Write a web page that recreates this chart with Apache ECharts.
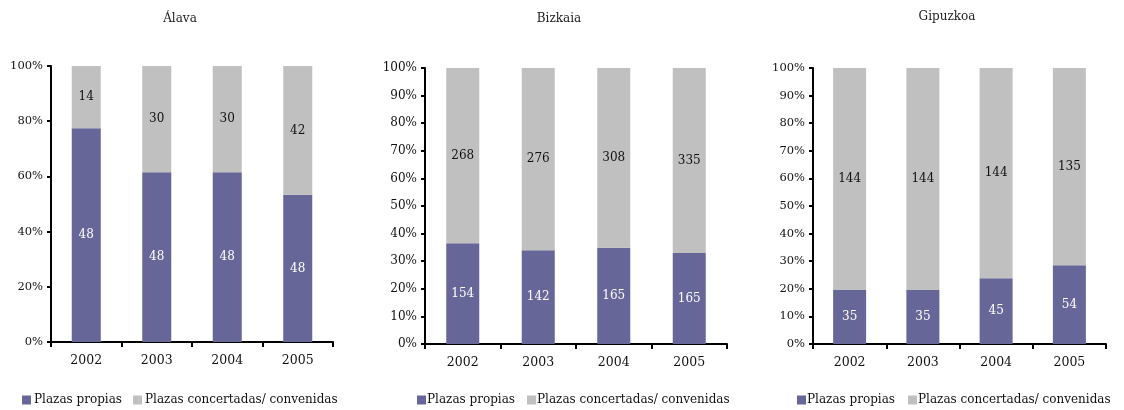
<!DOCTYPE html>
<html>
<head>
<meta charset="utf-8">
<script src="https://cdn.jsdelivr.net/npm/echarts@6/dist/echarts.min.js"></script>
<style>html,body{margin:0;padding:0;background:#fff}#c{width:1124px;height:410px}</style>
</head>
<body>
<div id="c"></div>
<script>
const years = ['2002', '2003', '2004', '2005'];
const regions = ['Álava', 'Bizkaia', 'Gipuzkoa'];
const seriesNames = ['Plazas propias', 'Plazas concertadas/ convenidas'];

const alavaPropias = [48, 48, 48, 48];
const alavaConcertadas = [14, 30, 30, 42];
const bizkaiaPropias = [154, 142, 165, 165];
const bizkaiaConcertadas = [268, 276, 308, 335];
const gipuzkoaPropias = [35, 35, 45, 54];
const gipuzkoaConcertadas = [144, 144, 144, 135];

const yIntervals = [20, 10, 10];

const propias = [alavaPropias, bizkaiaPropias, gipuzkoaPropias];
const concertadas = [alavaConcertadas, bizkaiaConcertadas, gipuzkoaConcertadas];

const FONT = '"DejaVu Serif", "Liberation Serif", serif';
const PURPLE = '#666699';
const GREY = '#C0C0C0';

const layout = [
  { left: 51, right: 791, top: 66, bottom: 68, barWidth: 29, titleX: 175, titleY: 8, legendX: 22, legendGap: 11, textPad: -2, yFont: 11.5 },
  { left: 425, right: 397, top: 68, bottom: 66, barWidth: 33, titleX: 554, titleY: 8, legendX: 417, legendGap: 12, textPad: -4, yFont: 12 },
  { left: 813, right: 18, top: 68, bottom: 66, barWidth: 33, titleX: 942, titleY: 6, legendX: 797, legendGap: 13, textPad: -4, yFont: 11.5 }
];

const grids = [], xAxes = [], yAxes = [], series = [], titles = [], legends = [];
layout.forEach((L, i) => {
  grids.push({ left: L.left, right: L.right, top: L.top, bottom: L.bottom, containLabel: false });
  titles.push({
    text: regions[i], left: L.titleX, top: L.titleY, textAlign: 'center',
    textStyle: { fontFamily: FONT, fontSize: 12, fontWeight: 'normal', color: '#222' }
  });
  xAxes.push({
    type: 'category', gridIndex: i, data: years, boundaryGap: true,
    axisLine: { lineStyle: { color: '#000', width: 2 } },
    axisTick: { show: true, length: 5, lineStyle: { color: '#000', width: 2 } },
    axisLabel: { fontFamily: FONT, fontSize: 12.5, color: '#111', margin: 12 }
  });
  yAxes.push({
    type: 'value', gridIndex: i, min: 0, max: 100, interval: yIntervals[i],
    axisLine: { show: true, lineStyle: { color: '#000', width: 2 } },
    axisTick: { show: true, length: 4, lineStyle: { color: '#000', width: 2 } },
    splitLine: { show: false },
    axisLabel: { fontFamily: FONT, fontSize: L.yFont, color: '#111', margin: 8, formatter: '{value}%' }
  });
  const p = propias[i], c = concertadas[i];
  const total = p.map((v, k) => v + c[k]);
  series.push({
    name: seriesNames[0], type: 'bar', stack: 's' + i, xAxisIndex: i, yAxisIndex: i,
    barWidth: L.barWidth,
    itemStyle: { color: PURPLE },
    data: p.map((v, k) => v / total[k] * 100),
    label: { show: true, position: 'inside', color: '#fff', fontFamily: FONT, fontSize: 12,
      formatter: (o) => String(p[o.dataIndex]) },
    emphasis: { disabled: true }
  });
  series.push({
    name: seriesNames[1], type: 'bar', stack: 's' + i, xAxisIndex: i, yAxisIndex: i,
    barWidth: L.barWidth,
    itemStyle: { color: GREY },
    data: c.map((v, k) => v / total[k] * 100),
    label: { show: true, position: 'inside', color: '#111', fontFamily: FONT, fontSize: 12,
      formatter: (o) => String(c[o.dataIndex]) },
    emphasis: { disabled: true }
  });
  legends.push({
    data: seriesNames, left: L.legendX, top: 394, orient: 'horizontal', padding: 0,
    itemWidth: 9, itemHeight: 9, itemGap: L.legendGap, icon: 'rect', selectedMode: false,
    textStyle: { fontFamily: FONT, fontSize: 12, color: '#111', padding: [0, 0, 0, L.textPad] }
  });
});

const chart = echarts.init(document.getElementById('c'), null, { renderer: 'canvas' });
chart.setOption({
  animation: false,
  backgroundColor: '#fff',
  title: titles,
  legend: legends,
  grid: grids,
  xAxis: xAxes,
  yAxis: yAxes,
  series: series
});
</script>
</body>
</html>
